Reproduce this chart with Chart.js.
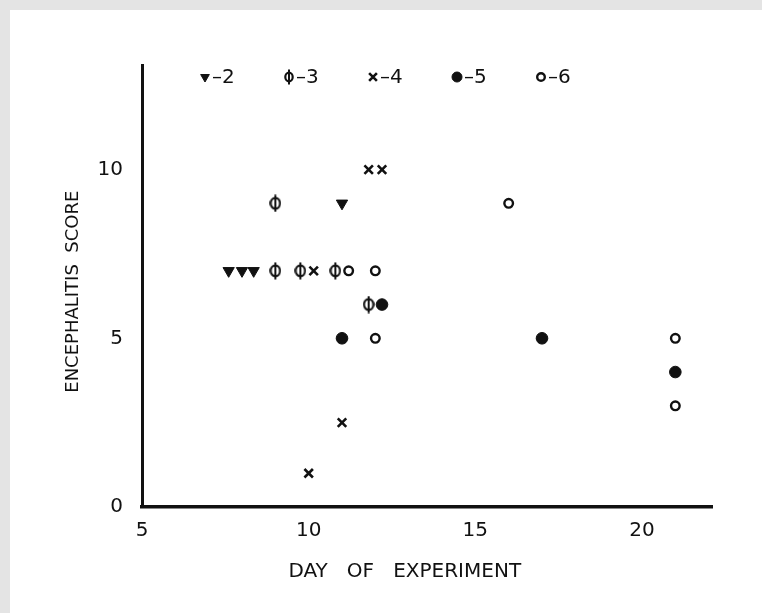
<!DOCTYPE html>
<html lang="en">
<head>
    <meta charset="UTF-8">
    <title>Encephalitis score</title>
    <script src="https://cdn.jsdelivr.net/npm/chart.js@4/dist/chart.umd.min.js"></script>
    <style>
        body { margin: 0; background: #fff; }
        canvas { display: block; }
    </style>
</head>
<body>
<canvas id="myChart" width="762" height="613"></canvas>
<script>
// data (day, score) for each group
var labels2 = '2', labels3 = '3', labels4 = '4', labels5 = '5', labels6 = '6';
var days2 = [7.6, 8.0, 8.35, 11];
var score2 = [7, 7, 7, 9];
var days3 = [9, 9, 9.75, 10.8, 11.8];
var score3 = [9, 7, 7, 7, 6];
var days4 = [10.15, 11.8, 12.2, 11, 10];
var score4 = [7, 10, 10, 2.5, 1];
var days5 = [12.2, 11, 17, 21];
var score5 = [6, 5, 5, 4];
var days6 = [11.2, 12, 12, 16, 21, 21];
var score6 = [7, 7, 5, 9, 5, 3];
var xTicks = [5, 10, 15, 20];
var yTicks = [0, 5, 10];

var ink = '#111';
var font = "'DejaVu Sans', sans-serif";

// phi symbol: small oval with a vertical stroke through it
function makePhi(w, h) {
    var cv = document.createElement('canvas');
    cv.width = w; cv.height = h;
    var c = cv.getContext('2d');
    c.strokeStyle = ink;
    c.lineWidth = 2.2;
    c.beginPath();
    c.ellipse(w / 2, h / 2, w / 2 - 1.3, h / 2 - 3.6, 0, 0, Math.PI * 2);
    c.stroke();
    c.lineWidth = 2;
    c.beginPath();
    c.moveTo(w / 2, 0.5);
    c.lineTo(w / 2, h - 0.5);
    c.stroke();
    return cv;
}
var phi = makePhi(12, 18);
var phiSmall = makePhi(10, 16);

function pts(xs, ys) {
    return xs.map(function (x, i) { return {x: x, y: ys[i]}; });
}

var datasets = [
    {label: labels2, data: pts(days2, score2), pointStyle: 'triangle', rotation: 180,
     pointRadius: 6.5, backgroundColor: ink, borderColor: ink, borderWidth: 1, legendRadius: 5},
    {label: labels3, data: pts(days3, score3), pointStyle: phi, pointRadius: 9,
     backgroundColor: ink, borderColor: ink, borderWidth: 0, legendStyle: phiSmall},
    {label: labels4, data: pts(days4, score4), pointStyle: 'crossRot', pointRadius: 6,
     backgroundColor: ink, borderColor: ink, borderWidth: 2.6, legendRadius: 5.5},
    {label: labels5, data: pts(days5, score5), pointStyle: 'circle', pointRadius: 5.8,
     backgroundColor: ink, borderColor: ink, borderWidth: 1, legendRadius: 5},
    {label: labels6, data: pts(days6, score6), pointStyle: 'circle', pointRadius: 4.3,
     backgroundColor: '#fff', borderColor: ink, borderWidth: 2.4, legendRadius: 3.8}
];

// legend drawn inside the plot area, along the top
var insideLegend = {
    id: 'insideLegend',
    afterDraw: function (chart) {
        var ctx = chart.ctx;
        var area = chart.chartArea;
        var y = area.top + 12;
        ctx.save();
        ctx.font = '20px ' + font;
        ctx.textBaseline = 'middle';
        chart.data.datasets.forEach(function (ds, i) {
            var x = area.left + 63 + i * 84;
            ctx.fillStyle = ds.backgroundColor;
            ctx.strokeStyle = ds.borderColor;
            ctx.lineWidth = ds.borderWidth;
            Chart.helpers.drawPoint(ctx, {
                pointStyle: ds.legendStyle || ds.pointStyle,
                radius: ds.legendRadius || 8,
                rotation: ds.rotation || 0,
                borderWidth: ds.borderWidth
            }, x, y);
            ctx.fillStyle = ink;
            ctx.fillText('\u2013' + ds.label, x + 7, y + 1);
        });
        ctx.restore();
    }
};

// scanned page look: faint grey edge at top and left
var paper = {
    id: 'paper',
    beforeDraw: function (chart) {
        var ctx = chart.ctx;
        ctx.save();
        ctx.fillStyle = '#e4e4e4';
        ctx.fillRect(0, 0, chart.width, chart.height);
        ctx.fillStyle = '#ffffff';
        ctx.fillRect(10, 10, chart.width - 10, chart.height - 10);
        ctx.restore();
    }
};

var ctx = document.getElementById('myChart');
var myChart = new Chart(ctx, {
    type: 'scatter',
    data: {datasets: datasets},
    plugins: [paper, insideLegend],
    options: {
        responsive: false,
        animation: false,
        layout: {padding: {left: 55, top: 65, right: 50, bottom: 20}},
        plugins: {
            legend: {display: false},
            tooltip: {enabled: false}
        },
        scales: {
            x: {
                type: 'linear',
                min: 5,
                max: 22.1,
                afterBuildTicks: function (scale) {
                    scale.ticks = xTicks.map(function (v) { return {value: v}; });
                },
                afterFit: function (scale) { scale.height = 86; },
                grid: {display: false, drawTicks: false},
                border: {display: true, color: ink, width: 3.5},
                ticks: {color: ink, padding: 12, font: {family: font, size: 20}},
                title: {display: true,
                        text: 'DAY   OF   EXPERIMENT\u00a0\u00a0\u00a0\u00a0\u00a0\u00a0\u00a0',
                        color: ink, padding: {top: 0, bottom: 9}, font: {family: font, size: 20}}
            },
            y: {
                type: 'linear',
                min: 0,
                max: 13.1,
                afterBuildTicks: function (scale) {
                    scale.ticks = yTicks.map(function (v) { return {value: v}; });
                },
                afterFit: function (scale) { scale.width = 87; },
                grid: {display: false, drawTicks: false},
                border: {display: true, color: ink, width: 3},
                ticks: {color: ink, padding: 19, font: {family: font, size: 20}},
                title: {display: true, text: 'ENCEPHALITIS  SCORE\u00a0\u00a0',
                        color: ink, padding: {top: 8, bottom: 0}, font: {family: font, size: 18}}
            }
        }
    }
});
</script>
</body>
</html>
